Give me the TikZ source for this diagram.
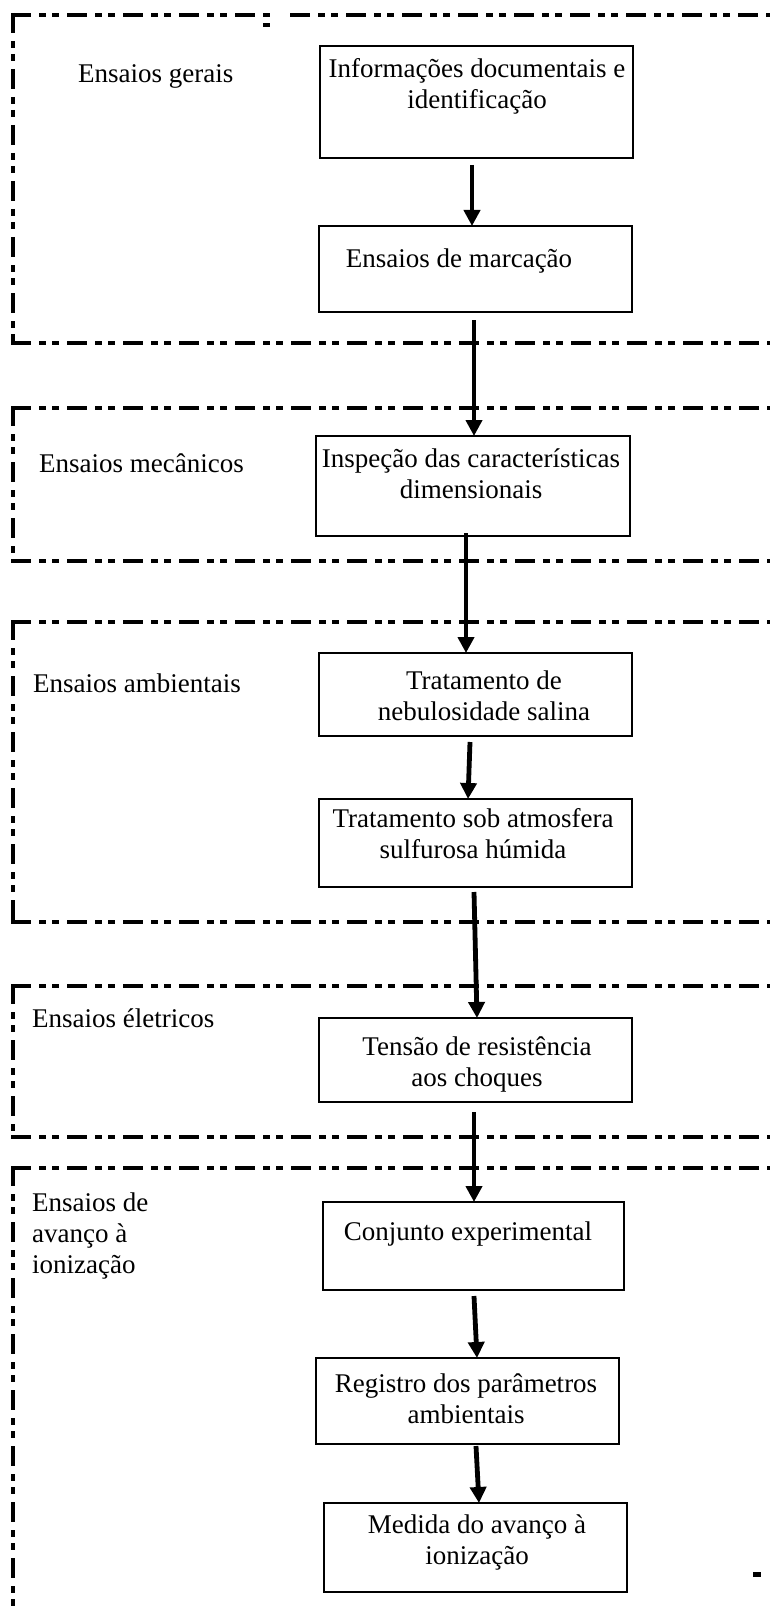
\documentclass[tikz,border=0pt]{standalone}
\usepackage{fontspec}
\setmainfont{Liberation Serif}
\usetikzlibrary{arrows.meta}
\begin{document}
\begin{tikzpicture}[x=1pt,y=-1pt,
  frame/.style={line width=4.5pt, dash pattern=on 20pt off 8pt on 7pt off 6pt on 7pt off 8pt},
  box/.style={draw, line width=2.2pt, inner sep=0pt, outer sep=0pt},
  txt/.style={font=\fontsize{27}{31}\selectfont, align=center, inner sep=0pt},
  glabel/.style={font=\fontsize{27}{31}\selectfont, align=left, inner sep=0pt, anchor=west},
  arr/.style={line width=4.8pt, -{Triangle[width=16pt,length=16pt]}}]
\useasboundingbox (0,0) rectangle (770,1613);

% group frames (each side starts at its left/top corner)
\draw[frame] (11,15) -- (270,15);
\draw[frame] (290,15) -- (770,15);
\draw[frame] (13,13) -- (13,343);
\draw[frame] (11,343) -- (770,343);
\fill (263,23) rectangle (270,27);

\draw[frame] (11,408) -- (770,408);
\draw[frame] (13,406) -- (13,561);
\draw[frame] (11,561) -- (770,561);

\draw[frame] (11,622) -- (770,622);
\draw[frame] (13,620) -- (13,922);
\draw[frame] (11,922) -- (770,922);

\draw[frame] (11,986) -- (770,986);
\draw[frame] (13,984) -- (13,1137);
\draw[frame] (11,1137) -- (770,1137);

\draw[frame] (11,1168) -- (770,1168);
\draw[frame] (13,1166) -- (13,1620);
\fill (753,1572) rectangle (761,1577);

% group labels
\node[glabel] (g1) at (78,76.5) {Ensaios gerais};
\node[glabel] (g2) at (39,463.5) {Ensaios mecânicos};
\node[glabel] (g3) at (33,683.5) {Ensaios ambientais};
\node[glabel] (g4) at (32,1018.5) {Ensaios életricos};
\node[glabel] (g5) at (32,1236) {Ensaios de\\avanço à\\ionização};

% boxes
\node[box, minimum width=313pt, minimum height=112pt] (b1) at (476.5,102) {};
\node[box, minimum width=313pt, minimum height=86pt] (b2) at (475.5,269) {};
\node[box, minimum width=314pt, minimum height=100pt] (b3) at (473,486) {};
\node[box, minimum width=313pt, minimum height=83pt] (b4) at (475.5,694.5) {};
\node[box, minimum width=313pt, minimum height=88pt] (b5) at (475.5,843) {};
\node[box, minimum width=313pt, minimum height=84pt] (b6) at (475.5,1060) {};
\node[box, minimum width=301pt, minimum height=88pt] (b7) at (473.5,1246) {};
\node[box, minimum width=303pt, minimum height=86pt] (b8) at (467.5,1401) {};
\node[box, minimum width=303pt, minimum height=89pt] (b9) at (475.5,1547.5) {};

% box texts
\node[txt] (t1) at (477,86) {Informações documentais e\\identificação};
\node[txt] (t2) at (459,261.5) {Ensaios de marcação};
\node[txt] (t3) at (471,473.5) {Inspeção das características\\dimensionais};
\node[txt] (t4) at (484,696) {Tratamento de\\nebulosidade salina};
\node[txt] (t5) at (473,833.5) {Tratamento sob atmosfera\\sulfurosa húmida};
\node[txt] (t6) at (477,1064.5) {Tensão de resistência\\aos choques};
\node[txt] (t7) at (468,1233.5) {Conjunto experimental};
\node[txt] (t8) at (466,1398.5) {Registro dos parâmetros\\ambientais};
\node[txt] (t9) at (477,1542.5) {Medida do avanço à\\ionização};

% arrows
\draw[arr] ([xshift=-4.5pt,yshift=-7pt]b1.south) -- ([xshift=-3.5pt]b2.north);
\draw[arr] ([xshift=-1.5pt,yshift=-8pt]b2.south) -- ([xshift=1pt]b3.north);
\draw[arr] ([xshift=-7pt,yshift=3pt]b3.south) -- ([xshift=-9.5pt]b4.north);
\draw[arr] ([xshift=-5.5pt,yshift=-6pt]b4.south) -- ([xshift=-7.5pt]b5.north);
\draw[arr] ([xshift=-1.5pt,yshift=-5pt]b5.south) -- ([xshift=1.5pt]b6.north);
\draw[arr] ([xshift=-1.5pt,yshift=-10pt]b6.south) -- ([xshift=0.5pt]b7.north);
\draw[arr] ([xshift=0.5pt,yshift=-6pt]b7.south) -- ([xshift=9.5pt]b8.north);
\draw[arr] ([xshift=8.5pt,yshift=-2pt]b8.south) -- ([xshift=3.5pt]b9.north);
\end{tikzpicture}
\end{document}
